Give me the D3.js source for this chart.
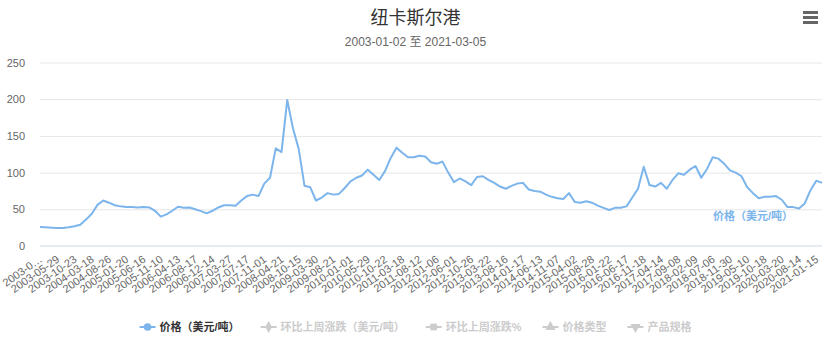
<!DOCTYPE html>
<html>
<head>
<meta charset="utf-8">
<script src="https://cdn.jsdelivr.net/npm/d3@7"></script>
<style>
  body { margin: 0; background: #fff; }
  svg { display: block; font-family: "Liberation Sans", Arial, "Noto Sans CJK SC", sans-serif; }
</style>
</head>
<body>
<svg id="chart" width="831" height="344"></svg>
<script>
'use strict';

// weekly prices, every 7th week (3 samples per x label)
const prices = [
    26, 25.5, 25, 24.5, 24.5, 25.5, 27, 29, 36, 44,
    56, 62, 59, 55.5, 54, 53, 53, 52.5, 53, 52.5,
    48, 40, 43, 48, 53.5, 52, 52.5, 50, 47.5, 44.5,
    48, 52.5, 55.5, 55.5, 55, 62, 68, 70, 68, 85,
    93, 133, 128, 199, 160, 132, 82, 80, 62, 66,
    72, 70, 71, 79, 88, 93, 96, 104, 97, 90,
    102, 120, 134, 127, 121, 121, 123, 122, 114, 112,
    115, 100, 87, 92, 88, 83, 94, 95, 90, 86,
    81, 78, 82, 85, 86, 77, 75, 74, 70, 67,
    65, 64, 72, 60, 59, 61, 59, 55, 52, 49,
    52, 52, 54, 66, 78, 108, 83, 81, 86, 78,
    90, 99, 97, 104, 109, 93, 105, 121, 119, 112,
    103, 100, 95, 80, 72, 65, 67, 67, 68, 63,
    53, 53, 51, 58, 76, 89, 86
];
const samplesPerTick = 3;

const tickLabels = [
    "2003-01-02", "2003-05-29", "2003-10-23", "2004-03-18", "2004-08-26",
    "2005-01-20", "2005-06-16", "2005-11-10", "2006-04-13", "2006-08-17",
    "2006-12-14", "2007-03-27", "2007-07-17", "2007-11-01", "2008-04-21",
    "2008-10-15", "2009-03-30", "2009-08-21", "2010-01-01", "2010-05-29",
    "2010-10-22", "2011-03-18", "2011-08-12", "2012-01-06", "2012-06-01",
    "2012-10-26", "2013-03-22", "2013-08-16", "2014-01-17", "2014-06-13",
    "2014-11-07", "2015-04-02", "2015-08-28", "2016-01-22", "2016-06-17",
    "2016-11-18", "2017-04-14", "2017-09-08", "2018-02-09", "2018-07-06",
    "2018-11-30", "2019-05-10", "2019-10-18", "2020-03-20", "2020-08-14",
    "2021-01-15"
];
const yTicks = [0, 50, 100, 150, 200, 250];

const title = "纽卡斯尔港";
const subtitle = "2003-01-02 至 2021-03-05";
const seriesName = "价格（美元/吨）";
const legendItems = [
    { name: "价格（美元/吨）", symbol: d3.symbolCircle, active: true },
    { name: "环比上周涨跌（美元/吨）", symbol: d3.symbolDiamond, active: false },
    { name: "环比上周涨跌%", symbol: d3.symbolSquare, active: false },
    { name: "价格类型", symbol: d3.symbolTriangle, active: false },
    { name: "产品规格", symbol: d3.symbolTriangle, active: false, flip: true }
];

const svg = d3.select("#chart"),
    width = +svg.attr("width"),
    height = +svg.attr("height"),
    margin = { top: 62.5, right: 9, bottom: 98, left: 40 };

const lineColor = "#7cb5ec";

const x = d3.scaleLinear()
    .domain([0, prices.length - 1])
    .range([margin.left, width - margin.right]);

const y = d3.scaleLinear()
    .domain([0, 250])
    .range([height - margin.bottom, margin.top]);

// title + subtitle
svg.append("text")
    .attr("x", width / 2).attr("y", 24)
    .attr("text-anchor", "middle")
    .style("font-size", "18px").style("fill", "#333")
    .text(title);

svg.append("text")
    .attr("x", width / 2).attr("y", 46)
    .attr("text-anchor", "middle")
    .style("font-size", "12px").style("fill", "#666")
    .text(subtitle);

// export menu icon
const menu = svg.append("g").attr("stroke", "#666").attr("stroke-width", 3);
[12.5, 17.5, 22.5].forEach(yy => {
    menu.append("line").attr("x1", 803).attr("x2", 818).attr("y1", yy).attr("y2", yy);
});

// grid + y labels
const yAxis = svg.append("g")
    .attr("transform", `translate(${margin.left},0)`)
    .call(d3.axisLeft(y).tickValues(yTicks).tickSize(-(width - margin.left - margin.right)).tickPadding(15));
yAxis.select(".domain").remove();
yAxis.selectAll(".tick line").attr("stroke", "#e6e6e6");
yAxis.selectAll(".tick text")
    .style("font-size", "11px").style("fill", "#666").style("font-family", null);
yAxis.selectAll(".tick").filter(d => d === 0).select("line").attr("stroke", "none");

// x axis line
svg.append("line")
    .attr("x1", margin.left).attr("x2", width - margin.right)
    .attr("y1", y(0)).attr("y2", y(0))
    .attr("stroke", "#ccd6eb");

// rotated x labels
const rot = 35;
const xl = svg.append("g").attr("class", "x-labels");
tickLabels.forEach((lab, i) => {
    const px = x(i * samplesPerTick);
    const t = xl.append("text")
        .attr("text-anchor", "end")
        .attr("transform", `translate(${px + 3},${y(0) + 15}) rotate(${-rot})`)
        .style("font-size", "11px").style("fill", "#666")
        .text(lab);
    // shorten labels that would run off the left edge
    let s = lab;
    while (px + 3 - t.node().getComputedTextLength() * Math.cos(rot * Math.PI / 180) < 2 && s.length > 3) {
        s = s.slice(0, -1);
        t.text(s + "…");
    }
});

// the line
const line = d3.line()
    .x((d, i) => x(i))
    .y(d => y(d));

svg.append("path")
    .datum(prices)
    .attr("fill", "none")
    .attr("stroke", lineColor)
    .attr("stroke-width", 2)
    .attr("stroke-linejoin", "round")
    .attr("d", line);

// series label
svg.append("text")
    .attr("x", x(124)).attr("y", y(36))
    .attr("text-anchor", "middle")
    .style("font-size", "11px").style("font-weight", "bold").style("fill", lineColor)
    .text(seriesName);

// legend
const legend = svg.append("g");
const legendY = 327;
let cursor = 0;
legendItems.forEach(it => {
    const g = legend.append("g");
    const col = it.active ? lineColor : "#cccccc";
    g.append("line").attr("x1", 0).attr("x2", 16).attr("y1", 0).attr("y2", 0)
        .attr("stroke", col).attr("stroke-width", 2);
    g.append("path")
        .attr("d", d3.symbol().type(it.symbol).size(it.symbol === d3.symbolDiamond ? 40 : 45)())
        .attr("transform", `translate(8,0)${it.flip ? " rotate(180)" : ""}`)
        .attr("fill", col);
    const t = g.append("text")
        .attr("x", 20).attr("y", 4)
        .style("font-size", "11px").style("font-weight", "bold")
        .style("fill", it.active ? "#333333" : "#cccccc")
        .text(it.name);
    const w = 20 + t.node().getComputedTextLength();
    g.attr("transform", `translate(${cursor},${legendY})`);
    cursor += w + 21;
});
const legendWidth = cursor - 21;
legend.attr("transform", `translate(${(width - legendWidth) / 2},0)`);
</script>
</body>
</html>
